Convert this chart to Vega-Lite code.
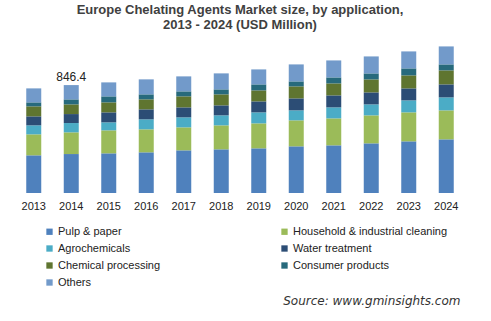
{
  "$schema": "https://vega.github.io/schema/vega-lite/v6.json",
  "autosize": "none",
  "width": 450,
  "height": 153,
  "padding": {"left": 15, "top": 40, "right": 26, "bottom": 128},
  "background": "white",
  "config": {"view": {"stroke": null}, "font": "Liberation Sans"},
  "title": {
    "text": ["Europe Chelating Agents Market size, by application,", "2013 - 2024 (USD Million)"],
    "fontSize": 13, "fontWeight": "bold", "color": "#404040", "font": "Liberation Sans",
    "lineHeight": 15, "offset": 8, "anchor": "middle"
  },
  "data": {"values": [
    {"year": "2013", "application": "Pulp & paper", "value": 295.5},
    {"year": "2013", "application": "Household & industrial cleaning", "value": 164.6},
    {"year": "2013", "application": "Agrochemicals", "value": 70.5},
    {"year": "2013", "application": "Water treatment", "value": 70.5},
    {"year": "2013", "application": "Chemical processing", "value": 78.4},
    {"year": "2013", "application": "Consumer products", "value": 31.3},
    {"year": "2013", "application": "Others", "value": 109.7},
    {"year": "2014", "application": "Pulp & paper", "value": 305.6},
    {"year": "2014", "application": "Household & industrial cleaning", "value": 170.1},
    {"year": "2014", "application": "Agrochemicals", "value": 72.9},
    {"year": "2014", "application": "Water treatment", "value": 70.5},
    {"year": "2014", "application": "Chemical processing", "value": 76.0},
    {"year": "2014", "application": "Consumer products", "value": 39.2},
    {"year": "2014", "application": "Others", "value": 112.1},
    {"year": "2015", "application": "Pulp & paper", "value": 311.1},
    {"year": "2015", "application": "Household & industrial cleaning", "value": 180.3},
    {"year": "2015", "application": "Agrochemicals", "value": 62.7},
    {"year": "2015", "application": "Water treatment", "value": 78.4},
    {"year": "2015", "application": "Chemical processing", "value": 78.4},
    {"year": "2015", "application": "Consumer products", "value": 47.0},
    {"year": "2015", "application": "Others", "value": 109.7},
    {"year": "2016", "application": "Pulp & paper", "value": 319.0},
    {"year": "2016", "application": "Household & industrial cleaning", "value": 180.3},
    {"year": "2016", "application": "Agrochemicals", "value": 78.4},
    {"year": "2016", "application": "Water treatment", "value": 78.4},
    {"year": "2016", "application": "Chemical processing", "value": 78.4},
    {"year": "2016", "application": "Consumer products", "value": 39.2},
    {"year": "2016", "application": "Others", "value": 117.6},
    {"year": "2017", "application": "Pulp & paper", "value": 334.6},
    {"year": "2017", "application": "Household & industrial cleaning", "value": 180.3},
    {"year": "2017", "application": "Agrochemicals", "value": 78.4},
    {"year": "2017", "application": "Water treatment", "value": 78.4},
    {"year": "2017", "application": "Chemical processing", "value": 86.2},
    {"year": "2017", "application": "Consumer products", "value": 39.2},
    {"year": "2017", "application": "Others", "value": 117.6},
    {"year": "2018", "application": "Pulp & paper", "value": 342.5},
    {"year": "2018", "application": "Household & industrial cleaning", "value": 188.1},
    {"year": "2018", "application": "Agrochemicals", "value": 78.4},
    {"year": "2018", "application": "Water treatment", "value": 78.4},
    {"year": "2018", "application": "Chemical processing", "value": 86.2},
    {"year": "2018", "application": "Consumer products", "value": 39.2},
    {"year": "2018", "application": "Others", "value": 125.4},
    {"year": "2019", "application": "Pulp & paper", "value": 350.3},
    {"year": "2019", "application": "Household & industrial cleaning", "value": 195.9},
    {"year": "2019", "application": "Agrochemicals", "value": 86.2},
    {"year": "2019", "application": "Water treatment", "value": 86.2},
    {"year": "2019", "application": "Chemical processing", "value": 86.2},
    {"year": "2019", "application": "Consumer products", "value": 47.0},
    {"year": "2019", "application": "Others", "value": 117.6},
    {"year": "2020", "application": "Pulp & paper", "value": 366.0},
    {"year": "2020", "application": "Household & industrial cleaning", "value": 203.8},
    {"year": "2020", "application": "Agrochemicals", "value": 78.4},
    {"year": "2020", "application": "Water treatment", "value": 94.0},
    {"year": "2020", "application": "Chemical processing", "value": 94.0},
    {"year": "2020", "application": "Consumer products", "value": 39.2},
    {"year": "2020", "application": "Others", "value": 133.2},
    {"year": "2021", "application": "Pulp & paper", "value": 373.8},
    {"year": "2021", "application": "Household & industrial cleaning", "value": 211.6},
    {"year": "2021", "application": "Agrochemicals", "value": 86.2},
    {"year": "2021", "application": "Water treatment", "value": 94.0},
    {"year": "2021", "application": "Chemical processing", "value": 94.0},
    {"year": "2021", "application": "Consumer products", "value": 47.0},
    {"year": "2021", "application": "Others", "value": 133.2},
    {"year": "2022", "application": "Pulp & paper", "value": 389.5},
    {"year": "2022", "application": "Household & industrial cleaning", "value": 219.4},
    {"year": "2022", "application": "Agrochemicals", "value": 86.2},
    {"year": "2022", "application": "Water treatment", "value": 94.0},
    {"year": "2022", "application": "Chemical processing", "value": 101.9},
    {"year": "2022", "application": "Consumer products", "value": 47.0},
    {"year": "2022", "application": "Others", "value": 133.2},
    {"year": "2023", "application": "Pulp & paper", "value": 405.2},
    {"year": "2023", "application": "Household & industrial cleaning", "value": 227.3},
    {"year": "2023", "application": "Agrochemicals", "value": 94.0},
    {"year": "2023", "application": "Water treatment", "value": 94.0},
    {"year": "2023", "application": "Chemical processing", "value": 101.9},
    {"year": "2023", "application": "Consumer products", "value": 54.9},
    {"year": "2023", "application": "Others", "value": 133.2},
    {"year": "2024", "application": "Pulp & paper", "value": 420.8},
    {"year": "2024", "application": "Household & industrial cleaning", "value": 227.3},
    {"year": "2024", "application": "Agrochemicals", "value": 101.9},
    {"year": "2024", "application": "Water treatment", "value": 101.9},
    {"year": "2024", "application": "Chemical processing", "value": 109.7},
    {"year": "2024", "application": "Consumer products", "value": 47.0},
    {"year": "2024", "application": "Others", "value": 141.1}
  ]},
  "encoding": {
    "x": {
      "field": "year", "type": "ordinal",
      "scale": {"paddingInner": 0.6, "paddingOuter": 0.3},
      "axis": {
        "labelAngle": 0, "domain": false, "ticks": false, "labelPadding": 7,
        "labelFontSize": 11, "labelColor": "#222222", "labelFont": "Liberation Sans",
        "title": "Source: www.gminsights.com", "titleFont": "DejaVu Sans", "titleFontStyle": "italic",
        "titleFontWeight": "normal", "titleFontSize": 12, "titleColor": "#333333",
        "titleAnchor": "end", "titleX": 445, "titleY": 111, "titleBaseline": "alphabetic"
      }
    }
  },
  "layer": [
    {
      "transform": [
        {"calculate": "indexof(['Pulp & paper', 'Household & industrial cleaning', 'Agrochemicals', 'Water treatment', 'Chemical processing', 'Consumer products', 'Others'], datum.application)", "as": "ord"}
      ],
      "mark": {"type": "bar"},
      "encoding": {
        "y": {"field": "value", "type": "quantitative", "stack": "zero", "scale": {"domain": [0, 1200]}, "axis": null},
        "order": {"field": "ord", "type": "quantitative", "sort": "ascending"},
        "color": {
          "field": "application", "type": "nominal",
          "scale": {
            "domain": ["Pulp & paper", "Household & industrial cleaning", "Agrochemicals", "Water treatment", "Chemical processing", "Consumer products", "Others"],
            "range": ["#4F81BD", "#9BBB59", "#4BACC6", "#2C4D75", "#5F7530", "#276A7C", "#729ACA"]
          },
          "legend": {
            "orient": "none", "legendX": 29, "legendY": 186, "columns": 2, "direction": "horizontal", "title": null,
            "symbolType": "square", "symbolSize": 40, "symbolStrokeWidth": 0,
            "labelFontSize": 11, "labelColor": "#222222", "labelFont": "Liberation Sans",
            "rowPadding": 5, "columnPadding": 66, "gridAlign": "all", "labelOffset": 3, "padding": 0
          }
        }
      }
    },
    {
      "transform": [
        {"aggregate": [{"op": "sum", "field": "value", "as": "total"}], "groupby": ["year"]},
        {"filter": "datum.year == '2014'"}
      ],
      "mark": {"type": "text", "dy": -8, "fontSize": 12, "color": "#222222", "font": "Liberation Sans"},
      "encoding": {
        "y": {"field": "total", "type": "quantitative"},
        "text": {"field": "total", "type": "quantitative", "format": ".1f"}
      }
    }
  ]
}
